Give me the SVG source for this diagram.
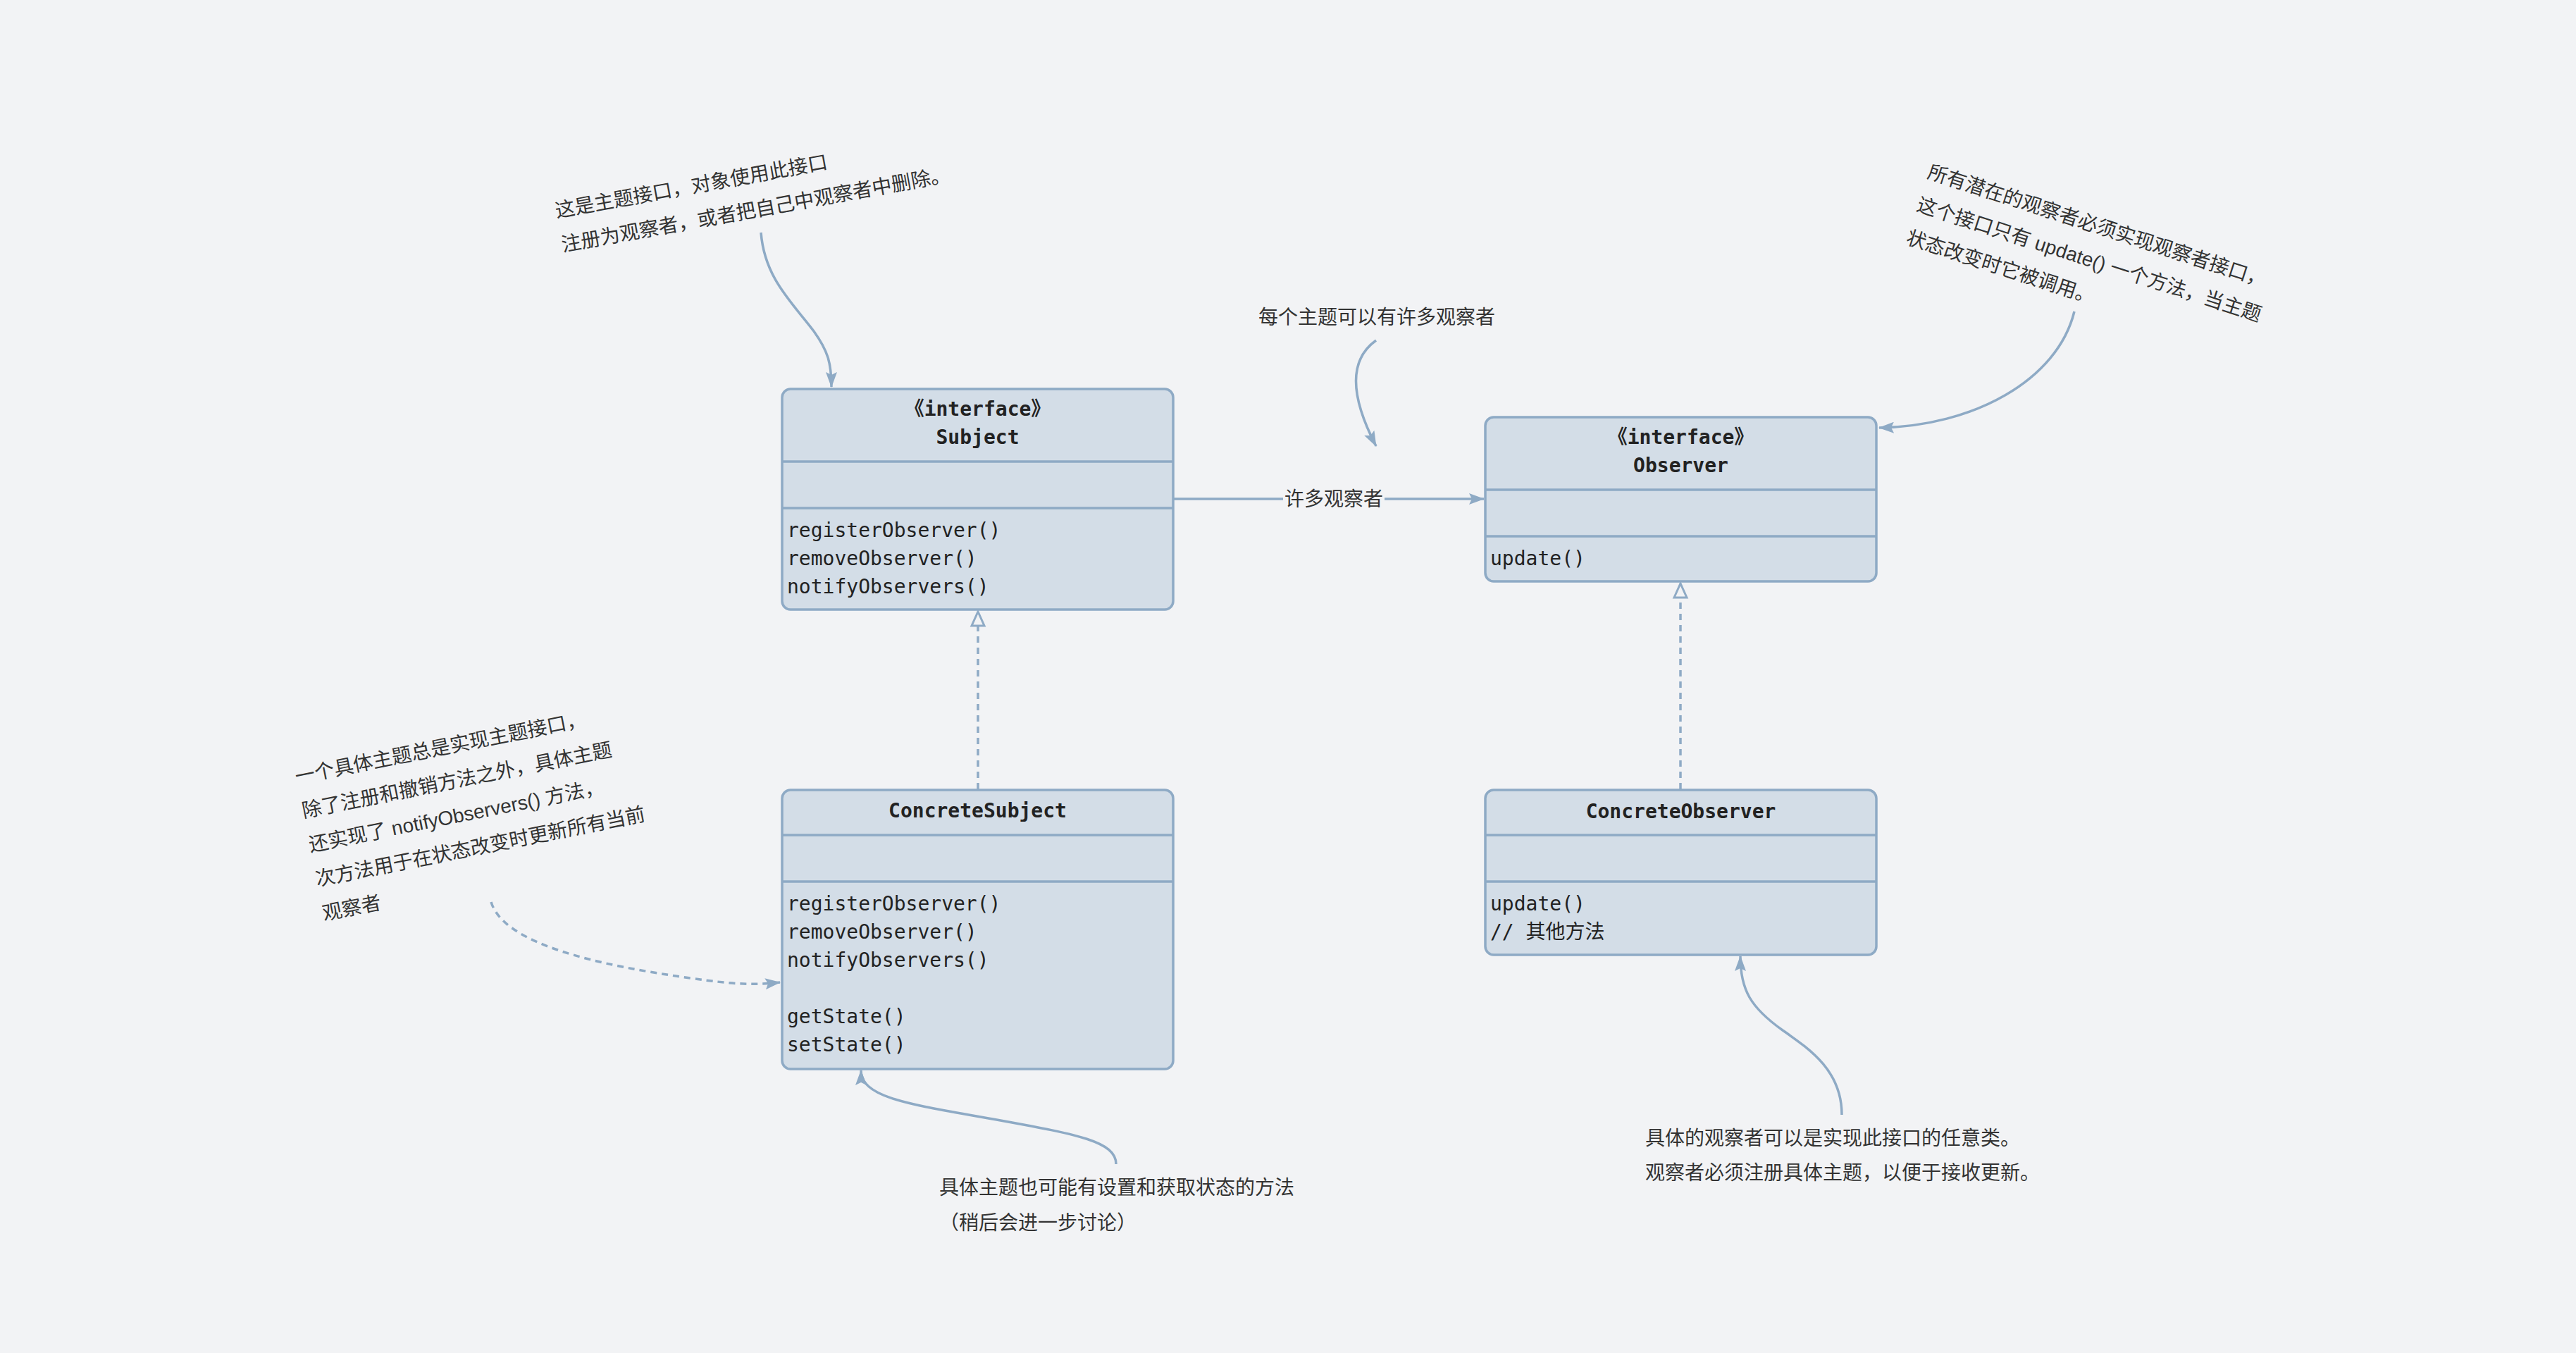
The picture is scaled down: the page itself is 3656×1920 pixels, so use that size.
<svg xmlns="http://www.w3.org/2000/svg" width="3656" height="1920" viewBox="0 0 3656 1920">
<style>
.bg{fill:#f2f3f5}
.box{fill:#d3dde7;stroke:#8eaac5;stroke-width:3.5}
.sep{stroke:#8eaac5;stroke-width:3.5}
.mono{font-family:"DejaVu Sans Mono","Noto Sans CJK SC",monospace;font-size:28px;fill:#222}
.b{font-weight:bold}
.c{text-anchor:middle}
.note{font-family:"Liberation Sans","Noto Sans CJK SC",sans-serif;font-size:28px;fill:#333}
.ln{fill:none;stroke:#8eaac5;stroke-width:3.5}
.dash{stroke-dasharray:9 7}
</style>
<defs>
<marker id="ah" viewBox="0 0 22 16" refX="21" refY="8" markerWidth="22" markerHeight="16" markerUnits="userSpaceOnUse" orient="auto"><path d="M0,0 L22,8 L0,16 L4,8 z" fill="#8eaac5"/></marker>
<marker id="tri" viewBox="-2 -2 26 24" refX="21" refY="10" markerWidth="26" markerHeight="24" markerUnits="userSpaceOnUse" orient="auto"><path d="M1,1 L21,10 L1,19 z" fill="#f2f3f5" stroke="#8eaac5" stroke-width="3"/></marker>
</defs>
<rect class="bg" x="0" y="0" width="3656" height="1920"/>

<g id="connectors">
<path class="ln" d="M1665,708 L2106,708" marker-end="url(#ah)"/>
<rect class="bg" x="1821" y="690" width="144" height="36"/>
<text class="note c" x="1893" y="718">许多观察者</text>
<path class="ln dash" d="M1388,1120 L1388,868" marker-end="url(#tri)"/>
<path class="ln dash" d="M2385,1120 L2385,828" marker-end="url(#tri)"/>
<path class="ln" d="M1080,330 C1085,395 1125,430 1155,470 C1175,498 1180,515 1180,549" marker-end="url(#ah)"/>
<path class="ln" d="M1953,483 C1915,510 1915,560 1953,633" marker-end="url(#ah)"/>
<path class="ln" d="M2944,442 C2920,540 2800,605 2667,607" marker-end="url(#ah)"/>
<path class="ln" d="M1584,1652 C1584,1620 1530,1610 1420,1590 C1300,1568 1222,1560 1222,1519" marker-end="url(#ah)"/>
<path class="ln" d="M2614,1582 C2614,1520 2570,1490 2530,1462 C2485,1430 2470,1405 2470,1357" marker-end="url(#ah)"/>
<path class="ln dash" d="M697,1280 C715,1340 850,1370 980,1388 C1040,1397 1070,1398 1107,1394" marker-end="url(#ah)"/>
</g>

<g id="subject">
<rect class="box" x="1110" y="552" width="555" height="313" rx="12"/>
<line class="sep" x1="1111" y1="655" x2="1664" y2="655"/>
<line class="sep" x1="1111" y1="721" x2="1664" y2="721"/>
<text class="mono b c" x="1387.5" y="590">《interface》</text>
<text class="mono b c" x="1387.5" y="630">Subject</text>
<text class="mono" x="1117" y="762">registerObserver()</text>
<text class="mono" x="1117" y="802">removeObserver()</text>
<text class="mono" x="1117" y="842">notifyObservers()</text>
</g>

<g id="observer">
<rect class="box" x="2108" y="592" width="555" height="233" rx="12"/>
<line class="sep" x1="2109" y1="695" x2="2662" y2="695"/>
<line class="sep" x1="2109" y1="761" x2="2662" y2="761"/>
<text class="mono b c" x="2385.5" y="630">《interface》</text>
<text class="mono b c" x="2385.5" y="670">Observer</text>
<text class="mono" x="2115" y="802">update()</text>
</g>

<g id="concrete-subject">
<rect class="box" x="1110" y="1121" width="555" height="396" rx="12"/>
<line class="sep" x1="1111" y1="1185" x2="1664" y2="1185"/>
<line class="sep" x1="1111" y1="1251" x2="1664" y2="1251"/>
<text class="mono b c" x="1387.5" y="1160">ConcreteSubject</text>
<text class="mono" x="1117" y="1292">registerObserver()</text>
<text class="mono" x="1117" y="1332">removeObserver()</text>
<text class="mono" x="1117" y="1372">notifyObservers()</text>
<text class="mono" x="1117" y="1452">getState()</text>
<text class="mono" x="1117" y="1492">setState()</text>
</g>

<g id="concrete-observer">
<rect class="box" x="2108" y="1121" width="555" height="234" rx="12"/>
<line class="sep" x1="2109" y1="1185" x2="2662" y2="1185"/>
<line class="sep" x1="2109" y1="1251" x2="2662" y2="1251"/>
<text class="mono b c" x="2385.5" y="1161">ConcreteObserver</text>
<text class="mono" x="2115" y="1292">update()</text>
<text class="mono" x="2115" y="1332">// 其他方法</text>
</g>

<g id="note-subject" transform="translate(790,309) rotate(-10.3)">
<text class="note" x="0" y="0">这是主题接口，对象使用此接口</text>
<text class="note" x="0" y="49">注册为观察者，或者把自己中观察者中删除。</text>
</g>

<g id="note-many">
<text class="note" x="1786" y="460">每个主题可以有许多观察者</text>
</g>

<g id="note-observer" transform="translate(2734,252) rotate(18)">
<text class="note" x="0" y="0">所有潜在的观察者必须实现观察者接口，</text>
<text class="note" x="0" y="49">这个接口只有 update() 一个方法，当主题</text>
<text class="note" x="0" y="98">状态改变时它被调用。</text>
</g>

<g id="note-concrete-subject" transform="translate(421,1112) rotate(-11.3)">
<text class="note" x="0" y="0">一个具体主题总是实现主题接口，</text>
<text class="note" x="0" y="49.5">除了注册和撤销方法之外，具体主题</text>
<text class="note" x="0" y="99">还实现了 notifyObservers() 方法，</text>
<text class="note" x="0" y="148.5">次方法用于在状态改变时更新所有当前</text>
<text class="note" x="0" y="198">观察者</text>
</g>

<g id="note-state">
<text class="note" x="1333" y="1695">具体主题也可能有设置和获取状态的方法</text>
<text class="note" x="1333" y="1745">（稍后会进一步讨论）</text>
</g>

<g id="note-concrete-observer">
<text class="note" x="2335" y="1625">具体的观察者可以是实现此接口的任意类。</text>
<text class="note" x="2335" y="1674">观察者必须注册具体主题，以便于接收更新。</text>
</g>
</svg>
